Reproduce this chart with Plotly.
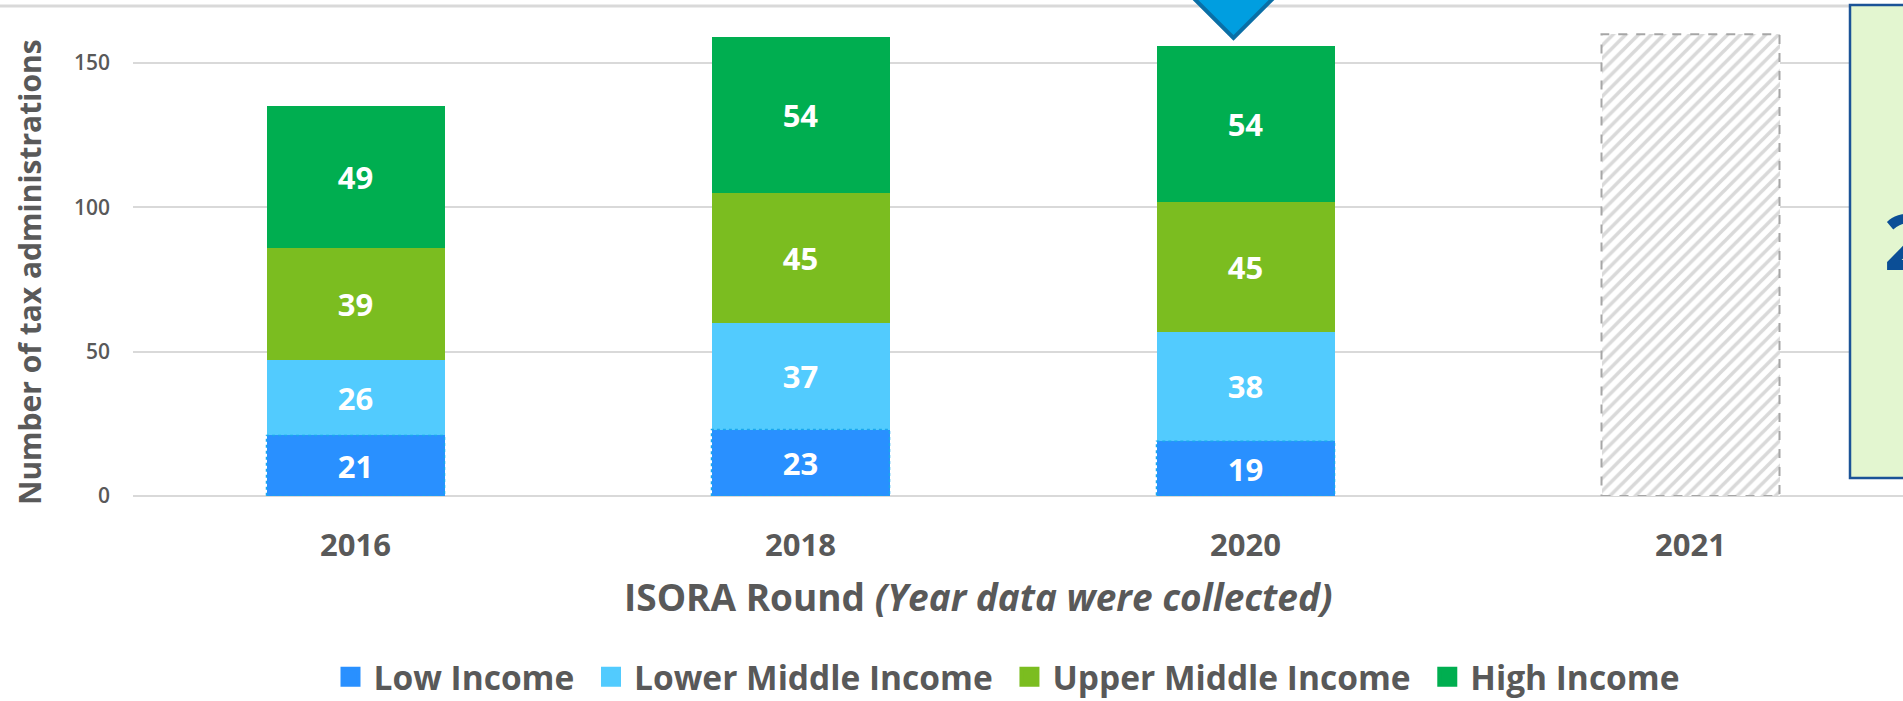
import plotly.graph_objects as go

# ---- data ----
rounds = ["2016", "2018", "2020"]
expected_round = ["2021"]
all_rounds = ["2016", "2018", "2020", "2021"]
low_income = [21, 23, 19]
lower_middle_income = [26, 37, 38]
upper_middle_income = [39, 45, 45]
high_income = [49, 54, 54]
expected_total = [160]
series_names = ["Low Income", "Lower Middle Income", "Upper Middle Income", "High Income"]
y_ticks = [0, 50, 100, 150]

# ---- style ----
colors = ["#2990FF", "#52CBFE", "#7BBD20", "#00AE50"]
GRAY = "#595959"
FONT = "Open Sans"
BAR_W = 0.4

# pixel geometry helpers (plot area 133..1903 x, 0..496 y)
W, H = 1903, 701
L, R, T, B = 133, 0, 0, 205
PW, PH = W - L - R, H - T - B
CAT_PX = 445.0
UNIT_PX = 144.3 / 50.0
x_range = [-0.5, -0.5 + PW / CAT_PX]
y_range = [0, PH / UNIT_PX]

def px_x(px):
    return (px - L) / PW

def px_y(py):
    return (PH - (py - T)) / PH

fig = go.Figure()

series = [low_income, lower_middle_income, upper_middle_income, high_income]
for name, vals, col in zip(series_names, series, colors):
    fig.add_trace(go.Bar(
        x=rounds, y=vals, name=name, showlegend=False, legendgroup=name,
        marker=dict(color=col, line=dict(width=0)),
        width=BAR_W,
        texttemplate="%{y}", textposition="inside", insidetextanchor="middle",
        textangle=0,
        textfont=dict(family=FONT, size=31, color="white", weight="bold"),
        hoverinfo="skip",
    ))

# expected 2021 round (hatched)
fig.add_trace(go.Bar(
    x=expected_round, y=expected_total, showlegend=False, width=BAR_W,
    marker=dict(color="white", line=dict(width=0),
                pattern=dict(shape="/", fgcolor="#B4B4B4", bgcolor="white",
                             size=9, solidity=0.4)),
    hoverinfo="skip",
))

# legend entries (library legend, larger square symbols)
pad = "\u00a0"
for i, (name, col) in enumerate(zip(series_names, colors)):
    fig.add_trace(go.Scatter(
        x=[None], y=[None], mode="markers",
        name=name + (pad if i < len(series_names) - 1 else ""),
        legendgroup=name, showlegend=True,
        marker=dict(symbol="square", size=16, color=col, line=dict(width=4, color=col)),
    ))

shapes = []
# dashed border of expected bar
shapes.append(dict(type="rect", xref="x", yref="y",
                   x0=3 - BAR_W / 2, x1=3 + BAR_W / 2, y0=0, y1=expected_total[0],
                   line=dict(color="#A6A6A6", width=2, dash="dash"), layer="above"))
# dotted border on low-income segments
for i, v in enumerate(low_income):
    shapes.append(dict(type="rect", xref="x", yref="y",
                       x0=i - BAR_W / 2, x1=i + BAR_W / 2, y0=0, y1=v,
                       line=dict(color="#1AA7EE", width=1.5, dash="dot"), layer="above"))
# top rule line
shapes.append(dict(type="line", xref="paper", yref="paper",
                   x0=px_x(0), x1=px_x(W), y0=px_y(6), y1=px_y(6),
                   line=dict(color="#D9D9D9", width=3), layer="below"))
# pointer triangle above 2020
i2020 = rounds.index("2020")
tot2020 = low_income[i2020] + lower_middle_income[i2020] + upper_middle_income[i2020] + high_income[i2020]
tip_x = i2020 - 12 / CAT_PX
tip_y = tot2020 + 2.7
top_y = tip_y + 21.5
half_w = (top_y - tip_y) * UNIT_PX / CAT_PX
shapes.append(dict(type="path", xref="x", yref="y",
                   path=f"M{tip_x - half_w},{top_y} L{tip_x + half_w},{top_y} L{tip_x},{tip_y} Z",
                   fillcolor="#009EE0", line=dict(color="#0A6FA6", width=4), layer="above"))
# green info box at right edge
shapes.append(dict(type="rect", xref="paper", yref="paper",
                   x0=px_x(1850), x1=px_x(1960), y0=px_y(478), y1=px_y(5),
                   fillcolor="#E3F6D0", line=dict(color="#1B5397", width=2.5), layer="above"))

annotations = [
    dict(text="Number of tax administrations", textangle=-90, xref="paper", yref="paper",
         x=px_x(29), y=px_y(272), xanchor="center", yanchor="middle", showarrow=False,
         font=dict(family=FONT, size=30, color=GRAY, weight="bold")),
    dict(text="ISORA Round <i>(Year data were collected)</i>", xref="paper", yref="paper",
         x=px_x(978), y=px_y(596), xanchor="center", yanchor="middle", showarrow=False,
         font=dict(family=FONT, size=37, color=GRAY, weight="bold")),
    dict(text="2", xref="paper", yref="paper", x=px_x(1882), y=px_y(241),
         xanchor="left", yanchor="middle", showarrow=False,
         font=dict(family=FONT, size=77, color="#0B4E96", weight="bold")),
]

fig.update_layout(
    width=W, height=H,
    margin=dict(l=L, r=R, t=T, b=B, pad=0, autoexpand=False),
    barmode="stack",
    paper_bgcolor="white", plot_bgcolor="white",
    font=dict(family=FONT, color=GRAY),
    shapes=shapes, annotations=annotations,
    showlegend=True,
    legend=dict(orientation="h", x=px_x(327.5), xanchor="left", y=px_y(677), yanchor="middle",
                itemwidth=36,
                font=dict(family=FONT, size=33.5, color=GRAY, weight="bold"),
                bgcolor="rgba(0,0,0,0)", traceorder="normal", itemclick=False, itemdoubleclick=False),
    hovermode=False,
)
fig.update_xaxes(type="category", categoryorder="array", categoryarray=all_rounds,
                 range=x_range, showgrid=False, showline=False, zeroline=False, ticks="",
                 ticklabelstandoff=28,
                 tickfont=dict(family=FONT, size=31, color=GRAY, weight="bold"))
fig.update_yaxes(range=y_range, tickvals=y_ticks, showgrid=True, gridcolor="#D9D9D9", gridwidth=2,
                 zeroline=True, zerolinecolor="#D9D9D9", zerolinewidth=2, showline=False, ticks="",
                 ticklabelstandoff=22,
                 tickfont=dict(family=FONT, size=21, color=GRAY, weight=600))

fig.write_html("out.html", config={"displayModeBar": False},
               post_script="document.body.style.margin='0';")
